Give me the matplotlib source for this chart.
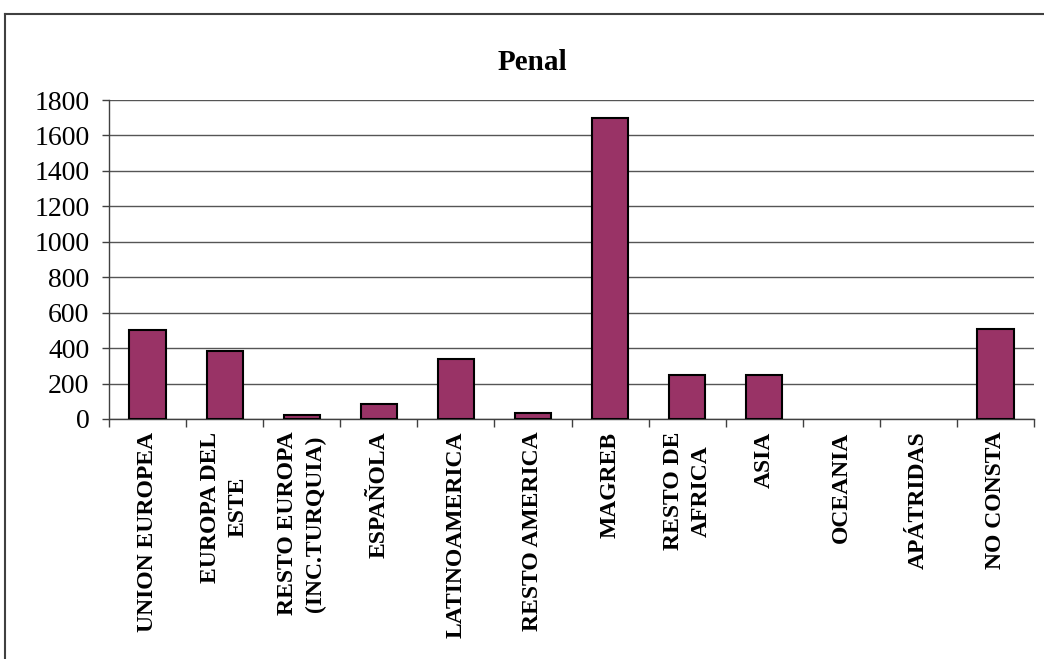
import numpy as np
import matplotlib.pyplot as plt
from matplotlib.lines import Line2D

# categories and values
categories = ["UNION EUROPEA", "EUROPA DEL\nESTE", "RESTO EUROPA\n(INC.TURQUIA)",
              "ESPAÑOLA", "LATINOAMERICA", "RESTO AMERICA", "MAGREB",
              "RESTO DE\nAFRICA", "ASIA", "OCEANIA", "APÁTRIDAS", "NO CONSTA"]
values = [500, 385, 24, 82, 340, 36, 1700, 250, 250, 0, 0, 510]
y_ticks = [0, 200, 400, 600, 800, 1000, 1200, 1400, 1600, 1800]

plt.rcParams['font.family'] = ['Liberation Serif', 'DejaVu Serif']

fig = plt.figure(figsize=(10.44, 6.59), dpi=100)
ax = fig.add_axes([109/1044, 1 - 419/659, 925/1044, 319/659])

x = np.arange(len(categories))
# zero-valued bars get no outline (nothing is drawn in the original)
edge_w = [1.5 if v > 0 else 0 for v in values]
ax.bar(x, values, width=0.47, color="#993366", edgecolor="black", linewidth=edge_w, zorder=3)

ax.set_xlim(-0.5, len(categories) - 0.5)
ax.set_ylim(0, 1800)
ax.set_yticks(y_ticks)
ax.tick_params(axis='y', labelsize=20, length=5, width=1, color="#404040", pad=9)
ax.yaxis.grid(True, color="#555555", linewidth=1)
ax.set_axisbelow(True)

# category labels on major ticks, tick marks between categories
ax.set_xticks(x)
ax.set_xticklabels(categories, rotation=90, fontsize=17, fontweight='bold',
                   ha='center', va='top', multialignment='center', linespacing=1.4)
ax.set_xticks(np.arange(len(categories) + 1) - 0.5, minor=True)
ax.tick_params(axis='x', which='major', length=0, pad=9)
ax.tick_params(axis='x', which='minor', length=6, width=1, color="#404040")

for side in ['top', 'right']:
    ax.spines[side].set_visible(False)
for side in ['left', 'bottom']:
    ax.spines[side].set_color("#404040")
    ax.spines[side].set_linewidth(1)

fig.text(532/1044, 1 - 62/659, "Penal", ha='center', va='center',
         fontsize=21, fontweight='bold')

# outer chart frame (clipped at right and bottom)
fig.add_artist(Line2D([5/1044, 1.0], [1 - 14/659, 1 - 14/659], transform=fig.transFigure,
                      color="#404040", linewidth=1.5))
fig.add_artist(Line2D([5/1044, 5/1044], [0.0, 1 - 14/659], transform=fig.transFigure,
                      color="#404040", linewidth=1.5))

fig.savefig("out.png", dpi=100)
